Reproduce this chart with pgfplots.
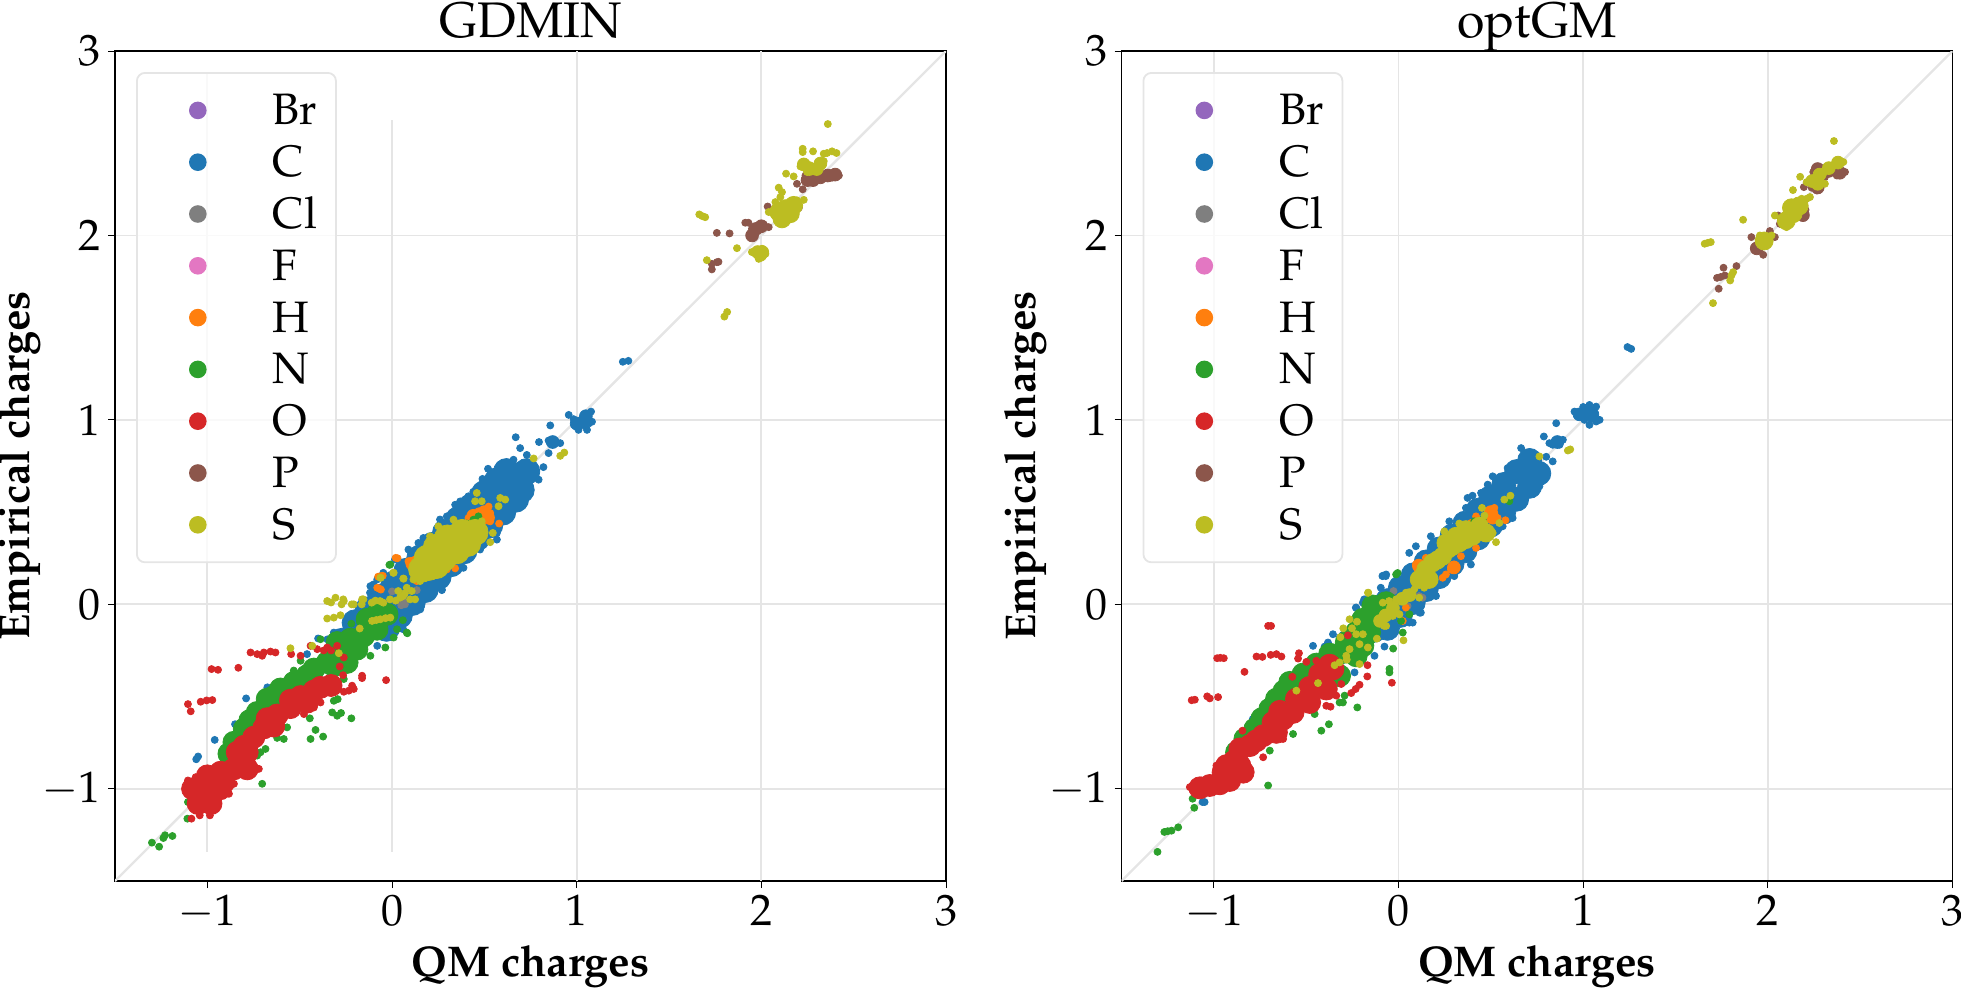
\documentclass[border=0pt]{standalone}
\usepackage[T1]{fontenc}
\usepackage{mathpazo}
\usepackage{pgfplots}
\pgfplotsset{compat=1.18}
\definecolor{cBr}{HTML}{9467BD}
\definecolor{cC}{HTML}{1F77B4}
\definecolor{cCl}{HTML}{7F7F7F}
\definecolor{cF}{HTML}{E377C2}
\definecolor{cH}{HTML}{FF7F0E}
\definecolor{cN}{HTML}{2CA02C}
\definecolor{cO}{HTML}{D62728}
\definecolor{cP}{HTML}{8C564B}
\definecolor{cS}{HTML}{BCBD22}
\definecolor{gl}{HTML}{E5E5E5}
\newcommand{\lgd}[1]{\makebox[29.5pt][l]{#1}\rule[-3pt]{0pt}{19pt}}
\pgfplotsset{
 dot/.style={only marks,mark=*,mark size=1.75pt,color=#1,mark options={draw=none,fill=#1}},
 smc/.style={dot=#1,mark size=3.2pt,forget plot},
 bigc/.style={dot=#1,mark size=6.5pt,forget plot},
 core/.style={dot=#1,mark size=6pt,forget plot},
 midc/.style={dot=#1,mark size=5.5pt,forget plot},
 narc/.style={dot=#1,mark size=4.5pt,forget plot},
 gridl/.style={gl,line width=0.9pt,forget plot},
 panel/.style={
  scale only axis,width=415.5pt,height=415pt,
  xmin=-1.5,xmax=3,ymin=-1.5,ymax=3,
  xtick={-1,0,1,2,3},ytick={-1,0,1,2,3},
  tick pos=left,tick align=outside,major tick length=3.5pt,
  axis line style={line width=0.8pt},
  every tick/.style={black,line width=0.5pt},
  tick label style={font=\fontsize{22}{26}\selectfont},
  label style={font=\fontsize{21.5}{26}\selectfont\bfseries},
  title style={font=\fontsize{25}{30}\selectfont,at={(axis description cs:0.5,1)},anchor=base,yshift=0.75pt},
  xlabel style={at={(axis description cs:0.5,0)},anchor=base,yshift=-47.5pt},
  ylabel style={at={(axis description cs:0,0.5)},anchor=base,yshift=43pt},
  xlabel={QM charges},ylabel={Empirical charges},
  ymajorgrids,major grid style={gl,line width=0.9pt},
  legend image code/.code={\path (0,0) (48pt,0);\fill[##1,fill opacity=1,draw=none] (30pt,0pt) circle (4.4pt);},
  legend cell align=left,
  legend style={at={(0.0253,0.9747)},anchor=north west,draw=gl,line width=0.9pt,rounded corners=4pt,
   fill=white,fill opacity=0.8,text opacity=1,draw opacity=1,inner xsep=0pt,inner ysep=8pt,
   row sep=4.4pt,font=\fontsize{22}{26}\selectfont,
   /tikz/every odd column/.append style={column sep=17.1pt}},
 }
}
\begin{document}
\begin{tikzpicture}
\useasboundingbox (0,0) rectangle (980.5pt,493.5pt);
%% ===================== GDMIN =====================
\begin{axis}[panel,at={(57.5pt,53pt)},anchor=south west,title={GDMIN}]
\addplot[gridl] coordinates {(-1,-1.344)(-1,2.886)};
\addplot[gridl] coordinates {(0,-1.344)(0,2.626)};
\addplot[gridl] coordinates {(1,-1.5)(1,3)};
\addplot[gridl] coordinates {(2,-1.5)(2,3)};
\addplot[gl,line width=1.2pt,forget plot] coordinates {(-1.5,-1.5)(3,3)};
\addplot[dot=cBr] coordinates {(0.05,0.05)(0.1,0.12)(0.2,0.25)};
\addlegendentry{\lgd{Br}}
\addplot[bigc=cC] coordinates {(-.2,-.1)(-.13,-.03)(-.06,.04)(.01,.11)(.08,.18)(.15,.25)(.22,.32)(.29,.39)(.36,.46)(.43,.53)(.5,.6)(.57,.67)(.62,.72)
(-.27,-.2)(-.2,-.2)(-.13,-.13)(-.06,-.06)(.01,.01)(.08,.08)(.15,.15)(.22,.22)(.29,.29)(.36,.36)(.43,.43)(.5,.5)(.57,.57)(.64,.64)(.7,.7)(.73,.72)
(-.03,-.13)(.04,-.06)(.11,.01)(.18,.08)(.25,.15)(.32,.22)(.39,.29)(.46,.36)(.53,.43)(.6,.5)(.67,.57)(.7,.62)};
\addplot[smc=cC,forget plot] coordinates {(1.04,.99)(1.05,1.02)(1.0,.98)(.87,.88)};
\addplot[dot=cC] coordinates {(.67,.906)(.593,.759)(.52,.735)(.49,.68)(.694,.847)(.658,.784)(.73,.81)(.82,.744)(.794,.676)(.857,.97)(.796,.88)(.848,.888)(.884,.886)(.911,.874)(.875,.874)(.848,.82)
(.957,1.027)(1.0,.98)(1.01,.946)(1.056,.946)(1.083,.99)(1.078,1.045)(1.047,1.018)(1.02,.99)(.984,1.004)(1.065,.98)(1.04,.97)
(1.25,1.315)(1.28,1.32)
(.342,.54)(.369,.558)(.26,.46)(.297,.477)(.17,.36)(.089,.297)(.143,.333)(-.10,.108)(-.047,.171)(-.119,.063)(.016,.243)(.44,.61)(.414,.586)
(.27,.077)(.17,.054)(.387,.198)(.477,.297)(.568,.387)(.676,.532)(.73,.595)(.676,.568)(.568,.351)
(-.315,-.153)(-.35,-.19)(-.40,-.185)(-.46,-.27)(-.675,-.45)(-.66,-.46)(-.75,-.61)(-.79,-.51)(-.85,-.65)(-.96,-.735)(-1.06,-.84)(-1.05,-.825)(-.92,-.80)(-.90,-.865)(-.80,-.67)(-.243,-.081)(-.117,.099)(-.08,.135)(-.08,-.225)(.153,-.027)(.06,-.135)(-.02,-.17)(.27,.08)};
\addlegendentry{\lgd{C}}
\addplot[dot=cCl] coordinates {(0,.07)(.134,.077)(.06,.018)(.07,0)(.05,-.005)};
\addlegendentry{\lgd{Cl}}
\addplot[dot=cF] coordinates {(-.2,-.2)(-.15,-.12)(-.25,-.2)};
\addlegendentry{\lgd{F}}
\addplot[smc=cH] coordinates {(.5,.5)(.52,.47)(.44,.48)(.11,.22)};
\addplot[dot=cH] coordinates {(.02,.252)(.03,.25)(-.06,.153)(-.075,.15)(-.05,.155)(-.069,.085)(-.06,.08)(-.08,.09)(.089,.234)(.125,.243)(.107,.198)(.152,.261)(.342,.195)(.297,.189)(.134,.126)(.1,.234)(.12,.16)
(.495,.513)(.523,.53)(.532,.495)(.468,.504)(.414,.468)(.532,.45)(.58,.438)(.378,.441)(.495,.459)(.45,.47)(.51,.49)};
\addlegendentry{\lgd{H}}
\addplot[midc=cN] coordinates {(-.027,-.054)(-.081,-.054)(-.135,-.081)(-.081,-.135)(-.153,-.171)(-.225,-.189)(-.297,-.207)(-.19,-.243)(-.28,-.279)(-.351,-.315)(-.423,-.351)(-.46,-.387)(-.53,-.423)(-.604,-.459)(-.676,-.514)(-.73,-.586)(-.80,-.676)(-.856,-.748)(-.883,-.81)(-.315,-.333)(-.243,-.315)(-.5,-.45)(-.64,-.5)(-.77,-.63)};
\addplot[dot=cN] coordinates {(.083,-.157)(.009,-.18)(-.036,-.234)(-.117,-.279)(.059,-.086)(.027,-.135)(-.22,-.105)(-.009,.216)(-.315,-.523)(-.294,-.514)(-.324,-.586)(-.297,-.604)(-.276,-.589)(-.22,-.618)(-.445,-.618)(-.414,-.681)(-.373,-.717)(-.441,-.73)(-.586,-.73)(-.622,-.724)(-.685,-.784)(-.712,-.802)(-.568,-.667)(-.703,-.973)(-1.105,-1.072)(-1.108,-1.162)(-1.189,-1.256)(-1.229,-1.252)(-1.238,-1.267)(-1.30,-1.292)(-1.261,-1.314)(-.532,-.359)(-.694,-.51)(-.649,-.463)(-.495,-.306)(-.387,-.189)(-.261,-.405)(.441,.459)(.468,.477)(.405,.438)(-.014,.214)(.08,-.153)(-.856,-.847)(-.73,-.82)};
\addlegendentry{\lgd{N}}
\addplot[midc=cO] coordinates {(-.33,-.44)(-.387,-.45)(-.423,-.47)(-.495,-.5)(-.55,-.52)(-.459,-.53)(-.55,-.56)(-.622,-.6)(-.676,-.62)(-.64,-.66)(-.694,-.67)(-.748,-.72)(-.802,-.77)(-.838,-.802)(-.784,-.802)(-.802,-.856)(-.784,-.892)(-.856,-.892)(-.928,-.91)(-.982,-.946)(-.91,-.964)(-.982,-1)(-1.036,-.982)(-1.036,-1.036)(-1,-1.072)(-.95,-.95)(-.93,-1)(-1.05,-1.08)(-.98,-1.08)(-1.08,-1)(-1,-.93)};
\addplot[dot=cO] coordinates {(-1.105,-.955)(-1.063,-.937)(-.964,-.892)(-.883,-1.027)(-.721,-.892)(-.766,-.901)(-.955,-1.09)(-1.041,-1.144)(-.986,-1.144)(-1.086,-1.162)(-1.063,-1.081)(-.856,-.973)(-.658,-.577)(-.712,-.604)(-.874,-.784)
(-.351,-.234)(-.405,-.243)(-.297,-.225)(-.441,-.225)(-.546,-.27)(-.495,-.279)(-.37,-.25)(-.33,-.25)
(-.766,-.261)(-.73,-.27)(-.694,-.261)(-.703,-.279)(-.658,-.256)(-.631,-.261)(-.832,-.344)(-.977,-.351)(-.942,-.355)(-1.105,-.541)(-1.09,-.58)(-1.036,-.528)(-.973,-.519)(-1.004,-.521)
(-.261,-.288)(-.283,-.337)(-.265,-.384)(-.162,-.387)(-.162,-.4)(-.032,-.411)(-.216,-.441)(-.234,-.468)(-.207,-.459)(-.261,-.474)(-.387,-.532)(-.423,-.559)(-.477,-.595)};
\addlegendentry{\lgd{O}}
\addplot[smc=cP] coordinates {(2.40,2.33)(2.36,2.325)(2.32,2.315)(2.28,2.30)(2.25,2.30)(1.95,2.0)(1.97,2.035)(2.0,2.05)};
\addplot[dot=cP] coordinates {(2.42,2.325)(2.392,2.338)(2.356,2.32)(2.32,2.313)(2.284,2.298)(2.248,2.289)(2.239,2.325)(2.266,2.325)(2.193,2.28)(2.224,2.25)(2.383,2.313)(2.3,2.325)(2.34,2.33)(2.26,2.3)
(2.034,2.157)(1.913,2.069)(1.93,2.069)(1.759,2.014)(1.828,2.011)(1.949,2.036)(1.976,2.049)(2.013,2.06)(2.04,2.045)(1.949,1.991)(1.94,2)(1.967,2.018)(1.759,1.855)(1.732,1.846)(1.732,1.816)(1.768,1.857)(2.157,2.1)(2.203,2.15)(2.076,2.108)(1.96,2.0)(1.98,2.03)};
\addlegendentry{\lgd{P}}
\addplot[bigc=cS] coordinates {(.16,.19)(.2,.2)(.19,.25)(.25,.27)(.24,.21)(.3,.31)(.28,.25)(.35,.35)(.35,.29)(.42,.37)(.41,.33)(.45,.39)(.24,.31)(.3,.36)(.38,.39)};
\addplot[narc=cS] coordinates {(2.13,2.145)(2.094,2.127)(2.175,2.163)(2.112,2.09)(2.157,2.118)};
\addplot[smc=cS] coordinates {(2.23,2.385)(2.26,2.36)(2.3,2.36)(2.32,2.39)(1.98,1.91)(1.995,1.895)(2.005,1.91)};
\addplot[dot=cS] coordinates {(.333,.459)(.251,.423)(.486,.45)(.532,.337)(.546,.387)(.206,.369)(.116,.135)(.152,.126)(.459,.604)(.45,.559)(.486,.559)(.586,.577)(.613,.568)(.577,.532)(.767,.791)(.911,.805)(.933,.823)(.007,.171)(-.061,.144)(.061,.14)
(.08,.09)(.034,.072)(.107,.072)(-.011,.027)(.043,.036)(.098,.027)(.125,.027)(-.065,.018)(-.11,.009)(-.155,.027)(-.164,0)(-.218,0)(-.264,.027)(-.273,0)(-.047,.009)(.061,.045)(.02,.02)(.07,.06)(-.09,.02)
(-.351,.018)(-.306,.036)(-.261,.018)(-.207,0)(-.162,.027)(-.33,.01)(-.351,-.077)(-.315,-.072)(-.279,-.059)(-.108,-.09)(-.063,-.081)(-.009,-.072)(-.085,-.085)(-.035,-.075)(-.175,-.131)(-.288,-.265)(-.432,-.225)(-.55,-.238)(-.063,.144)(.009,.171)(.063,.139)
(2.36,2.604)(2.224,2.47)(2.224,2.452)(2.28,2.456)(2.338,2.443)(2.383,2.456)(2.407,2.447)(2.356,2.447)(2.134,2.335)(2.175,2.32)(2.226,2.398)(2.212,2.374)(2.248,2.344)(2.266,2.38)(2.302,2.362)(2.32,2.398)(2.338,2.403)(2.28,2.36)
(2.094,2.259)(2.112,2.235)(2.103,2.208)(2.193,2.19)(2.23,2.193)(2.04,2.127)(2.076,2.181)(1.664,2.114)(1.696,2.099)(1.68,2.105)(1.868,1.931)(1.705,1.866)
(1.976,1.9)(2.004,1.928)(2.022,1.9)(1.986,1.873)(1.949,1.91)(1.99,1.905)(2.0,1.89)(1.80,1.56)(1.815,1.585)};
\addlegendentry{\lgd{S}}
\end{axis}
%% ===================== optGM =====================
\begin{axis}[panel,at={(560.75pt,53pt)},anchor=south west,title={optGM},xmajorgrids]
\addplot[gl,line width=1.2pt,forget plot] coordinates {(-1.5,-1.5)(3,3)};
\addplot[dot=cBr] coordinates {(0.05,0.05)(0.1,0.12)(0.2,0.25)};
\addlegendentry{\lgd{Br}}
\addplot[core=cC] coordinates {(-.2,-.12)(-.13,-.05)(-.06,.02)(.01,.09)(.08,.16)(.15,.23)(.22,.30)(.29,.37)(.36,.44)(.43,.51)(.5,.58)(.57,.65)(.64,.72)(.71,.78)
(-.06,-.13)(.01,-.06)(.08,.01)(.15,.08)(.22,.15)(.29,.22)(.36,.29)(.43,.36)(.5,.43)(.57,.5)(.64,.57)(.71,.64)(.76,.71)
(-.27,-.2)(-.2,-.14)(-.13,-.14)};
\addplot[smc=cC] coordinates {(1.03,1.04)(1.05,1.03)(.98,1.03)(.86,.88)};
\addplot[dot=cC] coordinates {(.664,.847)(.787,.91)(.854,.982)(.817,.874)(.854,.883)(.89,.892)(.872,.865)(.835,.865)(.8,.8)
(.953,1.045)(1.007,1.045)(1.034,1.081)(1.07,1.072)(1.089,1)(1.034,.973)(1.07,.991)(.98,1.018)(1.025,1.027)(1.052,1.036)(1.007,1)(1.043,1.004)(1.0,1.07)
(1.24,1.395)(1.26,1.385)
(.374,.577)(.401,.589)(.591,.739)(.51,.694)(.483,.649)(.447,.604)(.365,.523)(.275,.45)(.175,.369)(.094,.315)(.058,.279)(-.087,.153)(-.069,.153)(-.096,.09)(-.231,-.018)(-.186,.027)
(.763,.64)(.799,.703)(.835,.775)(.618,.468)(.664,.568)(.564,.423)(.392,.216)(.302,.153)(.203,.045)(.121,-.045)(.058,-.099)
(-.067,.162)(-.085,.155)(-.229,-.018)(-.193,.009)(-.229,-.081)(-.382,-.207)(-.373,-.243)(-.4,-.229)(-.319,-.18)(-.463,-.225)(-.355,-.162)(-.076,-.229)(-.13,-.279)(-.238,-.369)(-.789,-.622)(-1.061,-1.072)(-1.05,-1.072)(.077,-.099)(.114,-.045)};
\addlegendentry{\lgd{C}}
\addplot[dot=cCl] coordinates {(-.027,.072)(.13,.036)(.112,.045)(.049,-.009)};
\addlegendentry{\lgd{Cl}}
\addplot[dot=cF] coordinates {(-.2,-.2)(-.15,-.12)(-.25,-.2)};
\addlegendentry{\lgd{F}}
\addplot[smc=cH] coordinates {(.5,.5)(.51,.47)(.11,.21)(.3,.2)};
\addplot[dot=cH] coordinates {(.519,.523)(.519,.495)(.537,.468)(.474,.477)(.42,.477)(.579,.456)(.392,.441)(.5,.5)(.49,.47)(.112,.225)(.094,.216)(.103,.189)(.148,.252)(.302,.216)(.284,.189)(.257,.162)(.239,.144)(.42,.306)(.338,.261)(.094,.126)(.04,-.018)(.023,-.09)};
\addlegendentry{\lgd{H}}
\addplot[midc=cN] coordinates {(-.139,-.009)(-.067,.009)(-.193,-.081)(-.121,-.063)(-.229,-.153)(-.157,-.153)(-.193,-.225)(-.283,-.207)(-.301,-.261)(-.229,-.279)(-.373,-.27)(-.445,-.324)(-.517,-.378)(-.589,-.423)(-.319,-.387)(-.661,-.514)(-.697,-.568)(-.778,-.676)(-.832,-.73)(-.877,-.802)(-.62,-.47)(-.74,-.62)};
\addplot[dot=cN] coordinates {(.059,-.054)(.014,-.09)(.023,-.153)(-.029,-.24)(-.049,-.369)(-.049,-.35)(-.223,-.559)(-.377,-.65)(-.418,-.685)(-.301,-.532)(-.319,-.532)(-.292,-.495)(-.706,-.982)(-1.115,-1.054)(-1.106,-1.103)(-1.193,-1.209)(-1.229,-1.227)(-1.268,-1.234)(-1.25,-1.23)(-1.305,-1.342)(-.013,.162)(-.005,.17)(-.571,-.703)(-.697,-.793)(-.535,-.369)(-.652,-.486)(-.724,-.577)(-.796,-.685)(-.454,-.595)(.456,.459)(.41,.45)(.6,.559)};
\addlegendentry{\lgd{N}}
\addplot[midc=cO] coordinates {(-.373,-.33)(-.427,-.38)(-.355,-.35)(-.481,-.45)(-.391,-.459)(-.553,-.514)(-.481,-.532)(-.643,-.58)(-.571,-.586)(-.679,-.64)(-.625,-.622)(-.733,-.712)(-.661,-.694)(-.805,-.766)(-.859,-.784)(-.931,-.874)(-.859,-.874)(-.95,-.91)(-.841,-.91)(-1.022,-.982)(-.968,-.973)(-.914,-.955)(-1.076,-.995)(-.77,-.74)(-.89,-.85)};
\addplot[dot=cO] coordinates {(-1.13,-.991)(-1.112,-.986)(-1.067,-.955)(-.986,-.874)(-.823,-.928)(-.841,-.874)(-.733,-.829)(-.625,-.73)(-.391,-.55)(-.368,-.555)(-.337,-.495)(-.31,-.432)
(-.256,-.481)(-.232,-.459)(-.211,-.436)(-.169,-.391)(-.036,-.425)(-.168,-.33)
(-.445,-.306)(-.499,-.312)(-.544,-.294)(-.539,-.265)(-.634,-.283)(-.661,-.27)(-.692,-.274)(-.769,-.283)(-.737,-.285)(-.982,-.292)(-.946,-.292)(-.965,-.29)(-.706,-.117)(-.69,-.117)(-.834,-.366)(-1.103,-.517)(-1.12,-.52)(-1.036,-.499)(-1.022,-.51)(-.977,-.503)(-.575,-.393)(-.845,-.685)(-.274,-.168)};
\addlegendentry{\lgd{O}}
\addplot[smc=cP] coordinates {(2.39,2.34)(2.27,2.36)(2.33,2.35)(2.27,2.26)(2.19,2.11)(1.94,1.93)};
\addplot[dot=cP] coordinates {(2.246,2.344)(2.273,2.371)(2.318,2.371)(2.391,2.344)(2.418,2.344)(2.373,2.325)(2.309,2.316)(2.195,2.262)(2.264,2.244)(2.237,2.259)(2.204,2.139)(2.192,2.099)(2.156,2.099)(2.065,2.063)(2.056,2.108)(2.011,2.024)(2.038,1.991)(1.911,1.991)(1.929,1.919)(1.975,1.895)(1.948,1.955)(1.83,1.834)(1.76,1.825)(1.725,1.77)(1.767,1.783)(1.745,1.775)(1.734,1.711)(1.95,1.925)};
\addlegendentry{\lgd{P}}
\addplot[narc=cS] coordinates {(.474,.387)(.401,.369)(.438,.423)(.365,.351)(.329,.333)(.365,.405)(.293,.315)(.257,.333)(.239,.261)(.184,.225)(.148,.189)(.166,.135)(.112,.135)(.311,.369)(.21,.24)(.27,.3)(.137,.16)(2.137,2.118)(2.128,2.15)(2.17,2.16)(2.1,2.08)(1.98,1.97)};
\addplot[smc=cS] coordinates {(.06,.05)(.02,.03)(-.03,-.02)(-.07,-.06)(-.1,-.09)(2.38,2.395)(2.33,2.365)(2.28,2.33)(2.24,2.295)(2.27,2.28)};
\addplot[dot=cS] coordinates {(.329,.438)(.248,.396)(.528,.337)(.546,.441)(.452,.523)(.465,.481)(.51,.387)(.573,.568)(.606,.589)(.763,.802)(.917,.834)(.93,.84)(.139,.09)
(.085,.081)(.04,.063)(-.051,.018)(-.078,-.117)(.004,-.054)(.112,.036)(-.165,.063)
(-.164,.063)(-.265,-.081)(-.225,-.094)(-.299,-.13)(-.252,-.13)(-.315,-.178)(-.229,-.162)(-.193,-.162)(-.117,-.186)(-.211,-.216)(-.166,-.234)(-.265,-.243)(-.283,-.279)(-.319,-.315)(-.346,-.33)(-.28,-.3)(-.211,-.324)(-.436,-.427)(-.553,-.468)(.027,-.195)(-.067,-.117)(-.031,-.063)(-.085,-.081)(.005,-.054)(-.085,.009)(-.013,.027)(.059,.063)
(2.358,2.512)(2.391,2.394)(2.409,2.398)(2.363,2.389)(2.336,2.371)(2.3,2.335)(2.273,2.335)(2.309,2.28)(2.264,2.289)(2.21,2.289)(2.237,2.298)(2.282,2.271)(2.175,2.318)(2.136,2.246)
(2.21,2.199)(2.183,2.199)(2.228,2.208)(2.128,2.172)(2.156,2.154)(2.11,2.136)(2.092,2.108)(2.038,2.108)(2.101,2.072)(2.101,2.045)(2.174,2.145)
(1.866,2.085)(1.658,1.955)(1.691,1.964)(1.675,1.96)
(1.975,1.991)(2.002,1.982)(2.02,2)(1.957,2)(1.984,1.946)(1.98,1.97)(1.812,1.801)(1.803,1.783)(1.796,1.756)(1.703,1.633)};
\addlegendentry{\lgd{S}}
\end{axis}
\end{tikzpicture}
\end{document}
